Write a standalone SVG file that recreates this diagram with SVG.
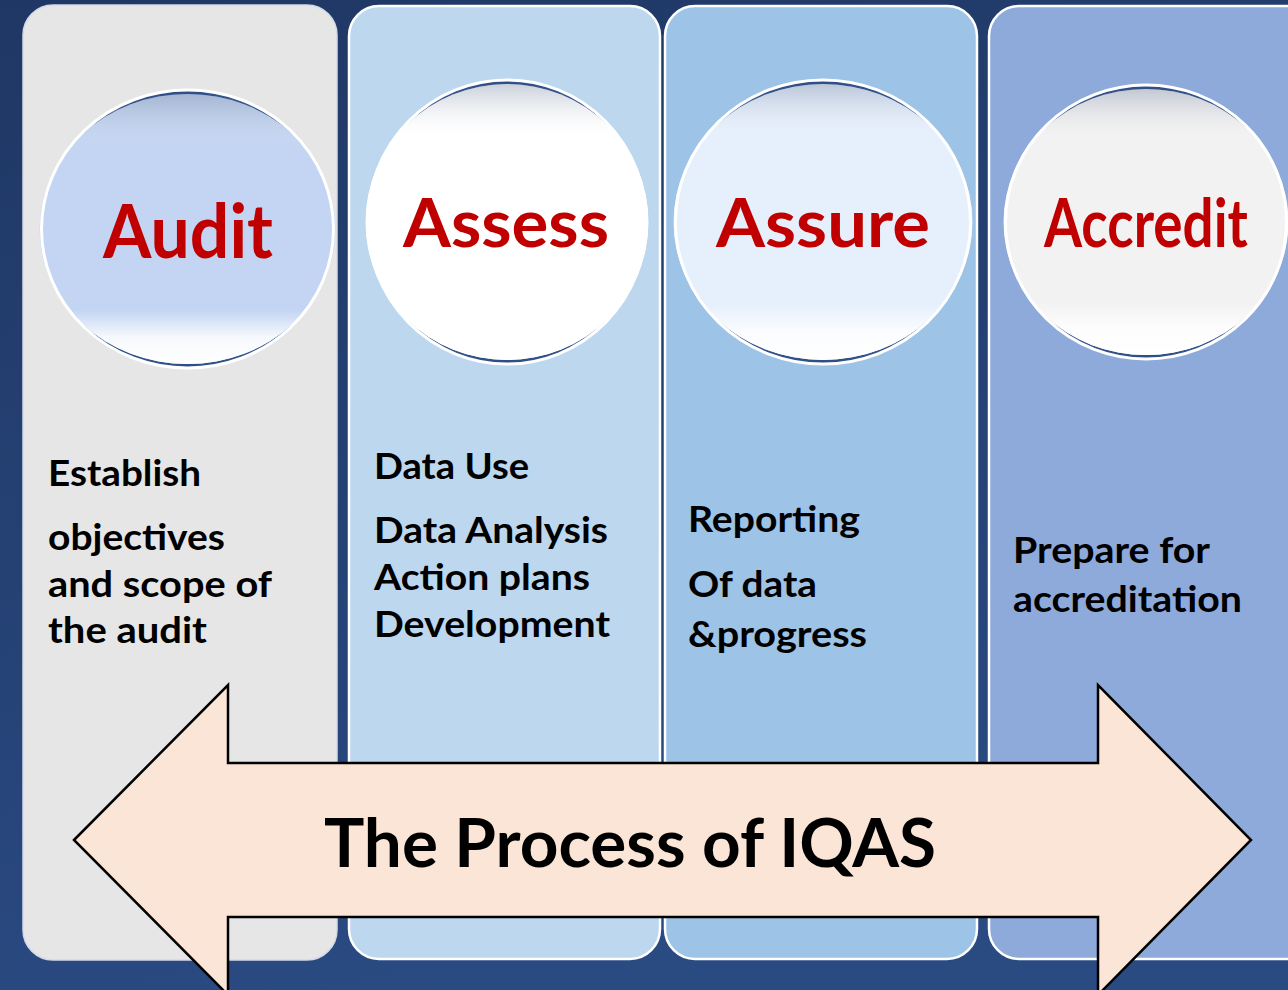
<svg xmlns="http://www.w3.org/2000/svg" width="1288" height="990" viewBox="0 0 1288 990">
  <defs>
    <linearGradient id="bg" x1="0" y1="0" x2="0.3" y2="1">
      <stop offset="0" stop-color="#1F3764"/>
      <stop offset="1" stop-color="#2A4A82"/>
    </linearGradient>
    <linearGradient id="shade" x1="0" y1="0" x2="0" y2="1">
      <stop offset="0" stop-color="#6A7896" stop-opacity="0.35"/>
      <stop offset="0.08" stop-color="#9AA4B8" stop-opacity="0.2"/>
      <stop offset="0.2" stop-color="#FFFFFF" stop-opacity="0"/>
      <stop offset="0.8" stop-color="#FFFFFF" stop-opacity="0"/>
      <stop offset="0.9" stop-color="#FFFFFF" stop-opacity="0.85"/>
      <stop offset="1" stop-color="#FFFFFF" stop-opacity="1"/>
    </linearGradient>
    <linearGradient id="rim" x1="0" y1="0" x2="0" y2="1">
      <stop offset="0" stop-color="#2F4E86"/>
      <stop offset="0.5" stop-color="#6F86B0"/>
      <stop offset="1" stop-color="#2F4E86"/>
    </linearGradient>
  </defs>
  <style>
    .panel { stroke: #FFFFFF; stroke-width: 2.5; }
    .rim { fill: url(#rim); }
    .shade { fill: url(#shade); }
    .outline { fill: none; stroke: #FFFFFF; stroke-width: 3; }
    .head { font-family: Lato, "Open Sans", "Liberation Sans", sans-serif; font-weight: 700; fill: #C00000; }
    .body { font-family: Lato, "Open Sans", "Liberation Sans", sans-serif; font-weight: 700; font-size: 36px; fill: #000000; }
    .title { font-family: Lato, "Open Sans", "Liberation Sans", sans-serif; font-weight: 700; font-size: 67px; fill: #000000; }
  </style>

  <rect x="0" y="0" width="1288" height="990" fill="url(#bg)"/>

  <g id="panel-audit">
    <rect x="23" y="5" width="314" height="955" rx="30" fill="#E6E6E6" stroke="#D3DAE6" stroke-width="1.5"/>
  </g>
  <g id="panel-assess">
    <rect class="panel" x="349" y="6" width="311" height="953" rx="30" fill="#BDD7EE"/>
  </g>
  <g id="panel-assure">
    <rect class="panel" x="665" y="6" width="312" height="953" rx="30" fill="#9DC3E6"/>
  </g>
  <g id="panel-accredit">
    <rect class="panel" x="989" y="6" width="330" height="953" rx="30" fill="#8EAADB"/>
  </g>

  <g id="node-audit">
    <ellipse class="rim" cx="187.5" cy="229" rx="145.5" ry="139"/>
    <ellipse cx="187.5" cy="229" rx="148" ry="135" fill="#C3D5F2"/>
    <ellipse class="shade" cx="187.5" cy="229" rx="148" ry="135"/>
    <ellipse class="outline" cx="187.5" cy="229" rx="146" ry="139"/>
    <text class="head" x="103" y="258" font-size="74" textLength="170" lengthAdjust="spacingAndGlyphs">Audit</text>
  </g>
  <g id="node-assess">
    <ellipse class="rim" cx="507" cy="222" rx="139" ry="142"/>
    <ellipse cx="507" cy="222" rx="141.5" ry="138" fill="#FFFFFF"/>
    <ellipse class="shade" cx="507" cy="222" rx="141.5" ry="138"/>
    <ellipse class="outline" cx="507" cy="222" rx="139.5" ry="142"/>
    <text class="head" x="403" y="247" font-size="67" textLength="206" lengthAdjust="spacingAndGlyphs">Assess</text>
  </g>
  <g id="node-assure">
    <ellipse class="rim" cx="823" cy="222" rx="147" ry="142"/>
    <ellipse cx="823" cy="222" rx="149.5" ry="138" fill="#E6F0FC"/>
    <ellipse class="shade" cx="823" cy="222" rx="149.5" ry="138"/>
    <ellipse class="outline" cx="823" cy="222" rx="147.5" ry="142"/>
    <text class="head" x="716" y="247" font-size="67" textLength="214" lengthAdjust="spacingAndGlyphs">Assure</text>
  </g>
  <g id="node-accredit">
    <ellipse class="rim" cx="1146" cy="222" rx="140" ry="137"/>
    <ellipse cx="1146" cy="222" rx="142.5" ry="133" fill="#F2F2F2"/>
    <ellipse class="shade" cx="1146" cy="222" rx="142.5" ry="133"/>
    <ellipse class="outline" cx="1146" cy="222" rx="140.5" ry="137"/>
    <text class="head" x="1044" y="247" font-size="66" textLength="204" lengthAdjust="spacingAndGlyphs">Accredit</text>
  </g>

  <g id="text-audit">
    <text class="body" x="48" y="486" textLength="153" lengthAdjust="spacingAndGlyphs">Establish</text>
    <text class="body" x="48" y="550" textLength="177" lengthAdjust="spacingAndGlyphs">objectives</text>
    <text class="body" x="48" y="597" textLength="224" lengthAdjust="spacingAndGlyphs">and scope of</text>
    <text class="body" x="48" y="643" textLength="159" lengthAdjust="spacingAndGlyphs">the audit</text>
  </g>
  <g id="text-assess">
    <text class="body" x="374" y="479" textLength="155" lengthAdjust="spacingAndGlyphs">Data Use</text>
    <text class="body" x="374" y="543" textLength="234" lengthAdjust="spacingAndGlyphs">Data Analysis</text>
    <text class="body" x="374" y="590" textLength="216" lengthAdjust="spacingAndGlyphs">Action plans</text>
    <text class="body" x="374" y="637" textLength="236" lengthAdjust="spacingAndGlyphs">Development</text>
  </g>
  <g id="text-assure">
    <text class="body" x="688" y="532" textLength="172" lengthAdjust="spacingAndGlyphs">Reporting</text>
    <text class="body" x="688" y="597" textLength="129" lengthAdjust="spacingAndGlyphs">Of data</text>
    <text class="body" x="688" y="647" textLength="179" lengthAdjust="spacingAndGlyphs">&amp;progress</text>
  </g>
  <g id="text-accredit">
    <text class="body" x="1013" y="563" textLength="197" lengthAdjust="spacingAndGlyphs">Prepare for</text>
    <text class="body" x="1013" y="612" textLength="229" lengthAdjust="spacingAndGlyphs">accreditation</text>
  </g>

  <g id="connectors">
    <g id="process-arrow">
      <polygon points="74,840 228,685 228,763 1098,763 1098,685 1251,840 1098,995 1098,917 228,917 228,995" fill="#FBE5D6" stroke="#000000" stroke-width="2.5" stroke-linejoin="miter"/>
      <text class="title" x="324" y="867" textLength="612" lengthAdjust="spacingAndGlyphs">The Process of IQAS</text>
    </g>
  </g>
</svg>
